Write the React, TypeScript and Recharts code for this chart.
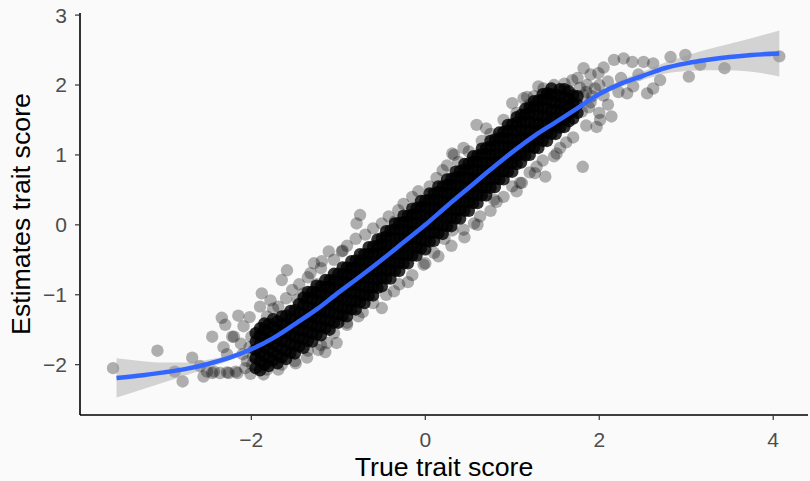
import { ComposedChart, Scatter, Line, Area, XAxis, YAxis } from "recharts";

const xTicks = [-2, 0, 2, 4];
const yTicks = [-2, -1, 0, 1, 2, 3];
const xDomain: [number, number] = [-3.97, 4.4];
const yDomain: [number, number] = [-2.72, 3.03];

// loess fit and its confidence band, read at a few x positions
const smoothX = [-3.55, -3.25, -3.0, -2.75, -2.5, -2.25, -2.0, -1.75, -1.5, -1.25, -1.0, -0.75, -0.5, -0.25, 0, 0.25, 0.5, 0.75, 1.0, 1.25, 1.5, 1.75, 2.0, 2.25, 2.5, 2.75, 3.0, 3.25, 3.5, 3.75, 4.07];
const smoothFit = [-2.19, -2.15, -2.11, -2.06, -1.99, -1.9, -1.78, -1.62, -1.42, -1.21, -0.97, -0.74, -0.5, -0.25, 0.0, 0.27, 0.53, 0.79, 1.04, 1.27, 1.47, 1.67, 1.87, 2.02, 2.13, 2.24, 2.31, 2.36, 2.4, 2.43, 2.45];
const smoothLo = [-2.47, -2.35, -2.25, -2.15, -2.05, -1.94, -1.81, -1.65, -1.44, -1.23, -0.99, -0.76, -0.52, -0.27, -0.02, 0.25, 0.51, 0.77, 1.02, 1.25, 1.44, 1.64, 1.83, 1.97, 2.07, 2.16, 2.2, 2.21, 2.21, 2.19, 2.12];
const smoothHi = [-1.91, -1.95, -1.97, -1.97, -1.93, -1.86, -1.75, -1.6, -1.4, -1.19, -0.95, -0.72, -0.48, -0.23, 0.02, 0.29, 0.55, 0.81, 1.06, 1.29, 1.5, 1.7, 1.91, 2.07, 2.19, 2.32, 2.42, 2.51, 2.59, 2.67, 2.78];

// scattered points around the cloud (tails and edges)
const tailPoints: [number, number][] = [
  [-3.59, -2.05], [-3.08, -1.8], [-2.88, -2.1], [-2.79, -2.24], [-2.68, -1.9], [-2.59, -2.02], [-2.55, -2.17],
  [-2.51, -2.1], [-2.45, -2.12], [-2.43, -2.1], [-2.36, -2.12], [-2.28, -2.11], [-2.26, -2.12], [-2.18, -2.1],
  [-2.16, -2.12], [-2.45, -1.6], [-2.34, -1.33], [-2.3, -1.43], [-2.22, -1.6], [-2.15, -1.3], [-2.09, -1.45],
  [-2.02, -1.32], [-2.32, -1.75], [-2.28, -1.85], [-2.2, -1.6], [-2.01, -2.13], [-1.99, -2.0], [-1.9, -1.17],
  [-1.86, -1.48], [-1.93, -1.62], [-1.97, -1.79], [-1.86, -2.14], [-1.82, -1.98], [-1.88, -0.98], [-1.82, -1.31],
  [-1.69, -1.17], [-1.65, -0.79], [-1.59, -0.65], [-1.53, -0.93], [-1.82, -2.07], [-1.69, -2.07], [-1.49, -1.98],
  [-1.36, -1.9], [-1.28, -0.55], [-1.32, -0.69], [-1.11, -0.38], [-0.96, -0.38], [-1.19, -0.52], [-1.02, -1.69],
  [-1.13, -1.69], [-1.23, -1.79], [-1.47, -1.07], [-0.9, -1.43], [-2.1, -1.85], [-2.05, -1.95], [-2.12, -1.7],
  [-2.0, -1.6], [-1.95, -1.9], [-2.07, -2.05], [-1.78, -1.08], [-1.4, -0.98], [-1.25, -0.85], [-1.15, -1.82],
  [-2.02, -1.75], [-1.98, -1.88],
];

const upperPoints: [number, number][] = [
  [-0.75, 0.14], [-0.79, 0.02], [-0.95, -0.37], [-0.69, -0.14], [-0.5, 0.02], [-0.31, 0.21], [-0.08, 0.48],
  [0.13, 0.67], [0.33, 1.0], [0.44, 1.1], [0.31, 1.02], [0.59, 1.43], [1.0, 1.74], [1.17, 1.83], [1.13, 1.81],
  [1.25, 1.84], [1.36, 1.95], [1.48, 2.0], [1.69, 2.07], [1.82, 2.24], [1.99, 2.17], [2.17, 2.36], [2.28, 2.38],
  [2.38, 2.33], [2.51, 2.33], [2.62, 2.31], [2.82, 2.4], [2.99, 2.43], [3.16, 2.29], [3.03, 2.12], [2.7, 2.07],
  [2.62, 1.95], [2.55, 1.88], [2.39, 1.98], [2.32, 1.88], [2.22, 1.9], [2.14, 1.55], [2.01, 1.5], [1.97, 1.4],
  [3.44, 2.24], [4.07, 2.41], [1.85, 1.9], [1.95, 1.95], [2.05, 1.85], [2.1, 2.05], [1.9, 1.75], [2.25, 2.1],
  [2.45, 2.15], [2.0, 2.0], [1.8, 1.62], [1.82, 1.85], [1.88, 1.68], [1.86, 2.0], [1.78, 1.96], [1.92, 1.84],
  [-1.75, -1.2], [-1.6, -1.05], [-1.45, -0.85], [-1.35, -0.75], [-1.2, -0.62], [-1.05, -0.5], [-0.9, -0.3],
  [-0.8, -0.2], [-0.6, -0.05], [-0.42, 0.12], [-0.25, 0.3], [-0.15, 0.4], [0.05, 0.55], [0.2, 0.78], [0.38, 0.9],
  [0.5, 1.05], [0.65, 1.2], [0.75, 1.3], [0.9, 1.5], [1.05, 1.6], [1.2, 1.72], [1.4, 1.88], [1.6, 2.02],
  [1.75, 2.1], [1.9, 2.15], [2.05, 2.25], [0.25, 0.85], [0.7, 1.38], [1.3, 1.98], [-0.35, 0.05],
];

const lowerPoints: [number, number][] = [
  [-0.5, -1.19], [-0.77, -1.31], [-0.36, -0.95], [-0.02, -0.57], [0.1, -0.4], [0.31, -0.08], [0.44, -0.07],
  [0.63, 0.12], [0.82, 0.33], [1.05, 0.48], [1.11, 0.6], [1.26, 0.74], [1.38, 0.69], [1.28, 0.83], [1.48, 0.98],
  [1.51, 1.02], [1.81, 0.83], [0.79, 0.36], [0.56, 0.02], [1.09, 0.6],
  [-1.65, -2.0], [-1.5, -1.95], [-1.35, -1.8], [-1.2, -1.72], [-1.05, -1.55], [-0.9, -1.4], [-0.72, -1.25],
  [-0.6, -1.12], [-0.45, -1.0], [-0.3, -0.85], [-0.15, -0.72], [0.0, -0.55], [0.15, -0.45], [0.3, -0.3],
  [0.45, -0.18], [0.6, 0.0], [0.75, 0.2], [0.9, 0.4], [1.0, 0.55], [1.2, 0.75], [1.35, 0.92], [1.55, 1.1],
  [1.7, 1.25], [1.85, 1.42], [2.0, 1.6], [2.1, 1.72], [-0.2, -0.82], [0.22, -0.2], [1.62, 1.18],
];

// the dense centre of the cloud, one column of points per x position
const coreColumns: { x: number; ys: number[] }[] = [
  { x: -1.95, ys: [-2.05, -1.91, -1.79, -1.67, -1.55] },
  { x: -1.9, ys: [-2.08, -1.95, -1.83, -1.7, -1.58, -1.48] },
  { x: -1.85, ys: [-2.0, -1.87, -1.75, -1.62, -1.5, -1.41] },
  { x: -1.8, ys: [-2.02, -1.9, -1.78, -1.66, -1.54, -1.42] },
  { x: -1.75, ys: [-1.94, -1.82, -1.7, -1.58, -1.46, -1.35] },
  { x: -1.7, ys: [-1.98, -1.86, -1.74, -1.62, -1.5, -1.38] },
  { x: -1.65, ys: [-1.9, -1.78, -1.66, -1.54, -1.42, -1.31] },
  { x: -1.6, ys: [-1.92, -1.8, -1.66, -1.55, -1.43, -1.3] },
  { x: -1.55, ys: [-1.83, -1.71, -1.58, -1.47, -1.35, -1.23] },
  { x: -1.5, ys: [-1.84, -1.72, -1.6, -1.48, -1.36, -1.22] },
  { x: -1.45, ys: [-1.74, -1.62, -1.5, -1.38, -1.26, -1.13] },
  { x: -1.4, ys: [-1.76, -1.63, -1.51, -1.4, -1.28, -1.14, -1.04] },
  { x: -1.35, ys: [-1.66, -1.53, -1.41, -1.3, -1.18, -1.05, -0.96] },
  { x: -1.3, ys: [-1.67, -1.55, -1.43, -1.31, -1.19, -1.06, -0.96] },
  { x: -1.25, ys: [-1.57, -1.45, -1.33, -1.21, -1.09, -0.97, -0.87] },
  { x: -1.2, ys: [-1.58, -1.46, -1.34, -1.22, -1.1, -0.98, -0.88] },
  { x: -1.15, ys: [-1.48, -1.36, -1.24, -1.12, -1.0, -0.89, -0.79] },
  { x: -1.1, ys: [-1.5, -1.37, -1.25, -1.13, -1.01, -0.89, -0.79] },
  { x: -1.05, ys: [-1.4, -1.27, -1.15, -1.03, -0.91, -0.8, -0.7] },
  { x: -1.0, ys: [-1.4, -1.28, -1.16, -1.04, -0.92, -0.8, -0.7] },
  { x: -0.95, ys: [-1.3, -1.18, -1.06, -0.94, -0.82, -0.71, -0.61] },
  { x: -0.9, ys: [-1.31, -1.19, -1.07, -0.95, -0.83, -0.71, -0.61] },
  { x: -0.85, ys: [-1.21, -1.09, -0.97, -0.85, -0.73, -0.62, -0.52] },
  { x: -0.8, ys: [-1.21, -1.09, -0.97, -0.85, -0.73, -0.61, -0.51] },
  { x: -0.75, ys: [-1.11, -0.99, -0.87, -0.75, -0.63, -0.52, -0.42] },
  { x: -0.7, ys: [-1.12, -1.0, -0.88, -0.76, -0.64, -0.52, -0.42] },
  { x: -0.65, ys: [-1.01, -0.89, -0.77, -0.65, -0.53, -0.42, -0.32] },
  { x: -0.6, ys: [-1.01, -0.89, -0.77, -0.65, -0.53, -0.41, -0.31] },
  { x: -0.55, ys: [-0.9, -0.78, -0.66, -0.54, -0.42, -0.3, -0.21] },
  { x: -0.5, ys: [-0.88, -0.76, -0.64, -0.52, -0.4, -0.28, -0.19] },
  { x: -0.45, ys: [-0.77, -0.65, -0.53, -0.41, -0.29, -0.17, -0.09] },
  { x: -0.4, ys: [-0.77, -0.65, -0.53, -0.42, -0.3, -0.18, -0.08] },
  { x: -0.35, ys: [-0.66, -0.54, -0.42, -0.31, -0.19, -0.07, 0.02] },
  { x: -0.3, ys: [-0.66, -0.54, -0.42, -0.31, -0.19, -0.07, 0.03] },
  { x: -0.25, ys: [-0.55, -0.43, -0.31, -0.2, -0.08, 0.04, 0.13] },
  { x: -0.2, ys: [-0.55, -0.43, -0.31, -0.2, -0.08, 0.04, 0.13] },
  { x: -0.15, ys: [-0.44, -0.32, -0.2, -0.09, 0.03, 0.15, 0.23] },
  { x: -0.1, ys: [-0.44, -0.32, -0.2, -0.09, 0.03, 0.15, 0.24] },
  { x: -0.05, ys: [-0.34, -0.22, -0.1, 0.02, 0.14, 0.26, 0.34] },
  { x: 0.0, ys: [-0.35, -0.23, -0.11, 0.01, 0.13, 0.25, 0.35] },
  { x: 0.05, ys: [-0.24, -0.12, 0.0, 0.12, 0.24, 0.36, 0.45] },
  { x: 0.1, ys: [-0.23, -0.11, 0.01, 0.12, 0.24, 0.36, 0.45] },
  { x: 0.15, ys: [-0.12, 0.0, 0.12, 0.23, 0.35, 0.47, 0.55] },
  { x: 0.2, ys: [-0.13, -0.01, 0.11, 0.22, 0.34, 0.46, 0.55] },
  { x: 0.25, ys: [-0.02, 0.1, 0.22, 0.33, 0.45, 0.57, 0.65] },
  { x: 0.3, ys: [-0.02, 0.1, 0.22, 0.33, 0.45, 0.57, 0.66] },
  { x: 0.35, ys: [0.09, 0.21, 0.33, 0.44, 0.56, 0.68, 0.76] },
  { x: 0.4, ys: [0.09, 0.21, 0.33, 0.44, 0.56, 0.68, 0.77] },
  { x: 0.45, ys: [0.2, 0.32, 0.44, 0.55, 0.67, 0.79, 0.87] },
  { x: 0.5, ys: [0.2, 0.32, 0.44, 0.55, 0.67, 0.79, 0.88] },
  { x: 0.55, ys: [0.31, 0.43, 0.55, 0.66, 0.78, 0.9, 0.98] },
  { x: 0.6, ys: [0.31, 0.43, 0.55, 0.66, 0.78, 0.9, 0.99] },
  { x: 0.65, ys: [0.42, 0.54, 0.66, 0.77, 0.89, 1.01, 1.09] },
  { x: 0.7, ys: [0.42, 0.54, 0.66, 0.77, 0.89, 1.01, 1.1] },
  { x: 0.75, ys: [0.53, 0.65, 0.77, 0.88, 1.0, 1.12, 1.2] },
  { x: 0.8, ys: [0.54, 0.66, 0.78, 0.89, 1.01, 1.13, 1.22] },
  { x: 0.85, ys: [0.65, 0.77, 0.89, 1.0, 1.12, 1.24, 1.32] },
  { x: 0.9, ys: [0.65, 0.77, 0.89, 1.0, 1.12, 1.24, 1.33] },
  { x: 0.95, ys: [0.76, 0.88, 1.0, 1.11, 1.23, 1.35, 1.43] },
  { x: 1.0, ys: [0.76, 0.88, 1.0, 1.11, 1.23, 1.35, 1.44] },
  { x: 1.05, ys: [0.87, 0.99, 1.11, 1.22, 1.34, 1.46, 1.54] },
  { x: 1.1, ys: [0.89, 1.01, 1.13, 1.24, 1.36, 1.48, 1.57] },
  { x: 1.15, ys: [0.99, 1.11, 1.23, 1.34, 1.46, 1.58, 1.66] },
  { x: 1.2, ys: [1.0, 1.12, 1.24, 1.35, 1.47, 1.59, 1.68] },
  { x: 1.25, ys: [1.1, 1.22, 1.34, 1.45, 1.57, 1.69, 1.77] },
  { x: 1.3, ys: [1.1, 1.22, 1.34, 1.45, 1.57, 1.69, 1.78] },
  { x: 1.35, ys: [1.2, 1.32, 1.44, 1.55, 1.67, 1.79, 1.87] },
  { x: 1.4, ys: [1.2, 1.32, 1.44, 1.55, 1.67, 1.79, 1.88] },
  { x: 1.45, ys: [1.3, 1.42, 1.53, 1.64, 1.76, 1.87, 1.95] },
  { x: 1.5, ys: [1.3, 1.42, 1.53, 1.64, 1.75, 1.86] },
  { x: 1.55, ys: [1.39, 1.51, 1.62, 1.73, 1.84, 1.94] },
  { x: 1.6, ys: [1.4, 1.51, 1.62, 1.72, 1.83, 1.94] },
  { x: 1.65, ys: [1.48, 1.59, 1.7, 1.8, 1.91] },
  { x: 1.7, ys: [1.52, 1.63, 1.74, 1.85] },
  { x: 1.75, ys: [1.6, 1.72, 1.84] },
];

const sparseData = [...tailPoints, ...upperPoints, ...lowerPoints].map(([x, y]) => ({ x, y }));
const coreData = coreColumns.flatMap((c) => c.ys.map((y) => ({ x: c.x, y })));
const smoothData = smoothX.map((x, i) => ({
  x,
  fit: smoothFit[i],
  band: [smoothLo[i], smoothHi[i]],
}));

const FONT = '"Liberation Sans", Arial, Helvetica, sans-serif';
const fmt = (v: number) => String(v).replace("-", "\u2212");

const Dot = (opacity: number) => (props: any) =>
  <circle cx={props.cx} cy={props.cy} r={6.2} fill="#000000" fillOpacity={opacity} />;

export default function App() {
  return (
    <div style={{ position: "absolute", left: 0, top: 0, width: 810, height: 481, background: "#FAFAFA" }}>
      <style>{`body{margin:0;background:#FAFAFA;}`}</style>
      <ComposedChart width={810} height={481} margin={{ top: 13, right: 2, bottom: 0, left: 0 }}>
        <XAxis
          type="number"
          dataKey="x"
          domain={xDomain}
          ticks={xTicks}
          allowDataOverflow
          height={66}
          tickSize={5}
          tickMargin={12}
          tickFormatter={fmt}
          axisLine={{ stroke: "#000000", strokeWidth: 1.6 }}
          tickLine={{ stroke: "#333333", strokeWidth: 1.2 }}
          tick={{ fill: "#4D4D4D", fontSize: 21, fontFamily: FONT }}
          label={{
            value: "True trait score",
            position: "insideBottom",
            offset: 5,
            fill: "#000000",
            fontSize: 26.7,
            fontFamily: FONT,
          }}
        />
        <YAxis
          type="number"
          dataKey="y"
          domain={yDomain}
          ticks={yTicks}
          allowDataOverflow
          width={80}
          tickSize={5}
          tickMargin={8}
          tickFormatter={fmt}
          axisLine={{ stroke: "#000000", strokeWidth: 1.6 }}
          tickLine={{ stroke: "#333333", strokeWidth: 1.2 }}
          tick={{ fill: "#4D4D4D", fontSize: 21, fontFamily: FONT }}
          label={{
            content: () => (
              <text
                x={30}
                y={214}
                transform="rotate(-90 30 214)"
                textAnchor="middle"
                fill="#000000"
                fontSize={26.7}
                fontFamily={FONT}
              >
                Estimates trait score
              </text>
            ),
          }}
        />
        <Scatter data={sparseData} shape={Dot(0.3)} isAnimationActive={false} zIndex={50} />
        <Scatter data={coreData} shape={Dot(0.8)} isAnimationActive={false} zIndex={60} />
        <Area
          data={smoothData}
          dataKey="band"
          type="monotone"
          stroke="none"
          fill="#999999"
          fillOpacity={0.4}
          isAnimationActive={false}
          zIndex={100}
        />
        <Line
          data={smoothData}
          dataKey="fit"
          type="monotone"
          stroke="#3366FF"
          strokeWidth={4.5}
          dot={false}
          activeDot={false}
          isAnimationActive={false}
          zIndex={400}
        />
      </ComposedChart>
    </div>
  );
}
